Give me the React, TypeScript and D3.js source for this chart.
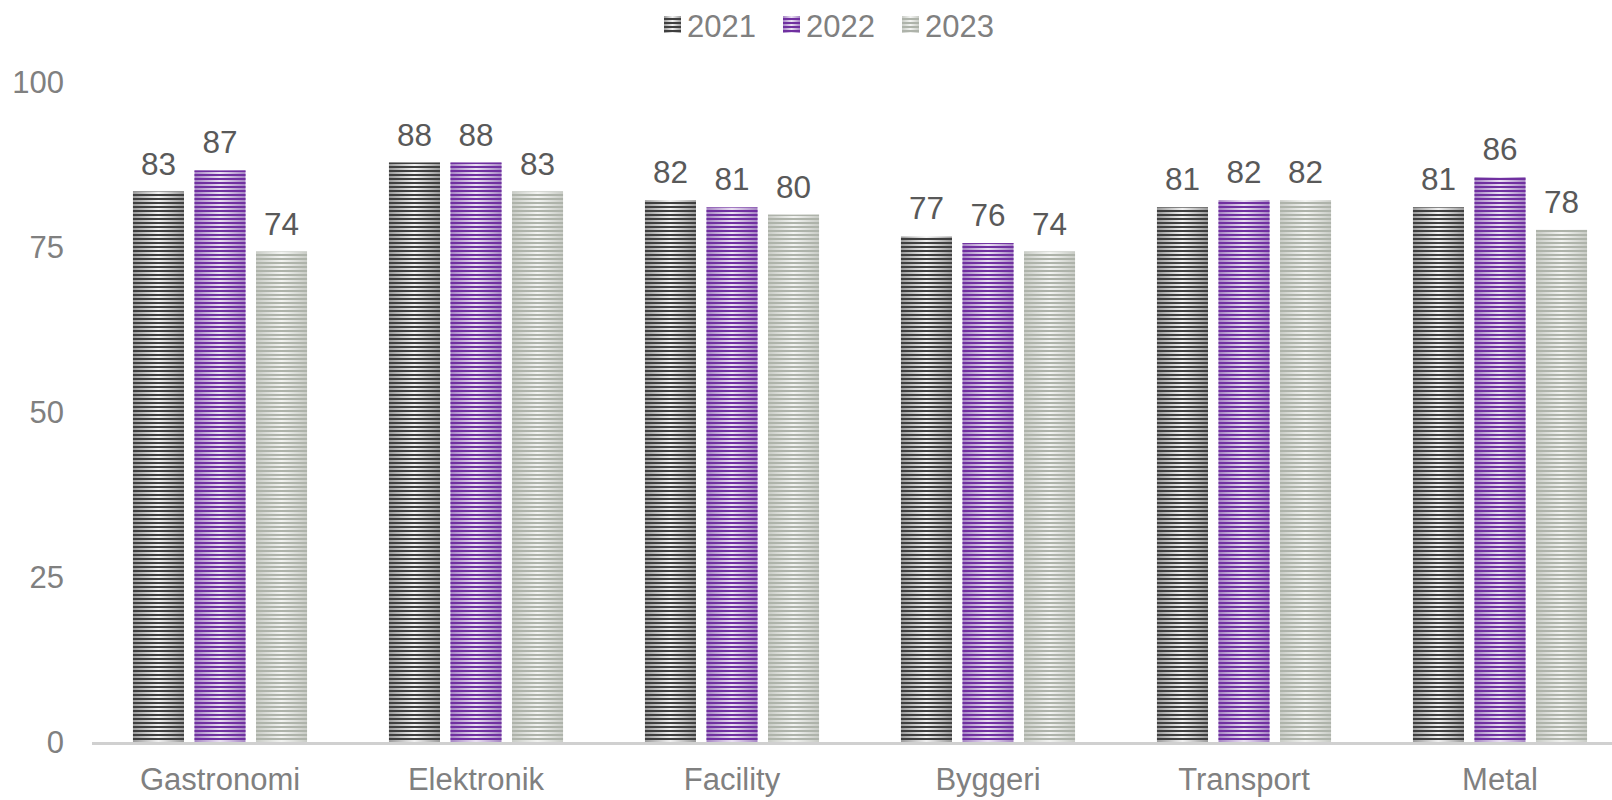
import React from "react";
import * as d3 from "d3";

const categories = ["Gastronomi", "Elektronik", "Facility", "Byggeri", "Transport", "Metal"];
const seriesNames = ["2021", "2022", "2023"];
const values2021 = [83.4, 87.8, 82.1, 76.6, 81.0, 81.0];
const values2022 = [86.6, 87.8, 81.0, 75.6, 82.1, 85.6];
const values2023 = [74.3, 83.4, 79.9, 74.3, 82.1, 77.6];
const yTicks = [0, 25, 50, 75, 100];

const seriesValues = [values2021, values2022, values2023];
const styles = [
  { dark: "#3f3f3f", edge: "#9a9a9a", center: "#f2f2f2" },
  { dark: "#7030a0", edge: "#a684c4", center: "#ebe2f3" },
  { dark: "#aeb3aa", edge: "#c9ccc6", center: "#f3f4f2" },
];

const W = 1612;
const H = 800;
const FONT = "'Liberation Sans', Arial, sans-serif";
const FS = 31;

export default function App() {
  const x0 = d3.scaleBand<string>().domain(categories).range([92, 1628]).paddingInner(0.32).paddingOuter(0.16);
  const x1 = d3.scaleBand<string>().domain(seriesNames).range([0, x0.bandwidth()]).paddingInner(0.1707).paddingOuter(0);
  const y = d3.scaleLinear().domain([0, 100]).range([742, 82]);
  const fmt = d3.format(".0f");

  return (
    <svg width={W} height={H} style={{ position: "absolute", left: 0, top: 0, background: "#fff" }} fontFamily={FONT}>
      <defs>
        {styles.map((s, i) => (
          <React.Fragment key={i}>
            <linearGradient id={`grad${i}`} x1="0" y1="0" x2="1" y2="0">
              <stop offset="0" stopColor={s.edge} />
              <stop offset="0.5" stopColor={s.center} />
              <stop offset="1" stopColor={s.edge} />
            </linearGradient>
            <pattern id={`stripe${i}`} patternUnits="userSpaceOnUse" width={4} height={4} y={2}>
              <rect x={0} y={0} width={4} height={2} fill={s.dark} />
            </pattern>
          </React.Fragment>
        ))}
      </defs>

      {/* legend */}
      {seriesNames.map((name, i) => {
        const lx = 664 + i * 119;
        return (
          <g key={name}>
            <rect x={lx} y={16} width={17} height={17} fill={`url(#grad${i})`} />
            <rect x={lx} y={16} width={17} height={17} fill={`url(#stripe${i})`} />
            <text x={lx + 23} y={36.5} fontSize={FS} fill="#808080">{name}</text>
          </g>
        );
      })}

      {/* y tick labels */}
      {yTicks.map((t) => (
        <text key={t} x={64} y={y(t) + 11} fontSize={FS} fill="#808080" textAnchor="end">{t}</text>
      ))}

      {/* bars */}
      {categories.map((c, ci) => (
        <g key={c} transform={`translate(${x0(c)},0)`}>
          {seriesNames.map((s, si) => {
            const v = seriesValues[si][ci];
            const bx = x1(s) as number;
            const top = y(v);
            return (
              <g key={s}>
                <rect x={bx} y={top} width={x1.bandwidth()} height={y(0) - top} fill={`url(#grad${si})`} />
                <rect x={bx} y={top} width={x1.bandwidth()} height={y(0) - top} fill={`url(#stripe${si})`} />
                <text x={bx + x1.bandwidth() / 2} y={top - 17} fontSize={FS + 0.5} fill="#595959" textAnchor="middle">{fmt(v)}</text>
              </g>
            );
          })}
        </g>
      ))}

      {/* x axis line */}
      <line x1={92} x2={W} y1={743.5} y2={743.5} stroke="#d0d0d0" strokeWidth={3} />

      {/* category labels */}
      {categories.map((c) => (
        <text key={c} x={(x0(c) as number) + x0.bandwidth() / 2} y={790} fontSize={FS} fill="#808080" textAnchor="middle">{c}</text>
      ))}
    </svg>
  );
}
